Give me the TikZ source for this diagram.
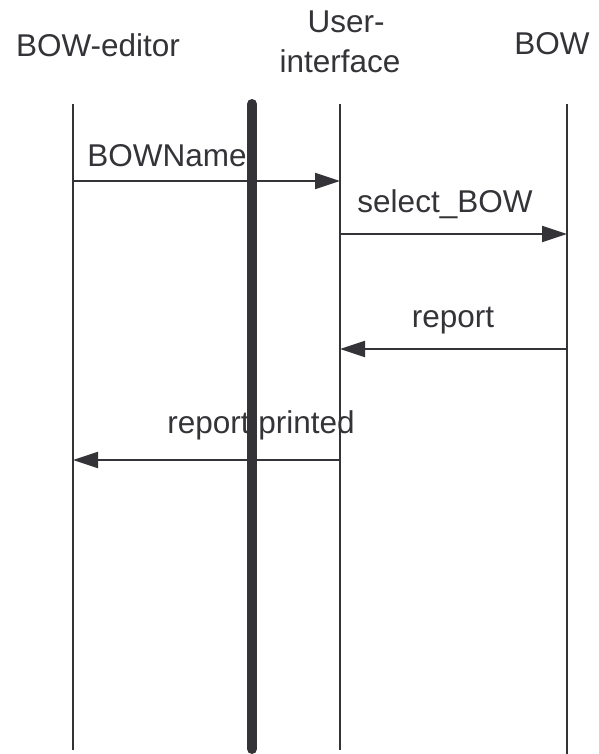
\documentclass[tikz,border=0pt]{standalone}
\usepackage{fontspec}
\setmainfont{Liberation Sans}
\usetikzlibrary{arrows.meta}
\definecolor{ink}{RGB}{51,51,56}
\begin{document}
\begin{tikzpicture}[x=1pt,y=-1pt,
  lbl/.style={anchor=base,inner sep=0pt,text=ink,font=\fontsize{31.5}{40}\selectfont},
  life/.style={draw=ink,line width=2pt},
  msg/.style={draw=ink,line width=2.2pt,-{Triangle[length=25pt,width=16pt]}},
  bar/.style={draw=ink,line width=10pt,line cap=round}]
\useasboundingbox (0,0) rectangle (598,754);
% headers
\node[lbl] (hE) at (98,57) {BOW-editor};
\node[lbl] (hU1) at (346,33) {User-};
\node[lbl] (hU2) at (340,73) {interface};
\node[lbl] (hB) at (552,55) {BOW};
% lifeline ends
\coordinate (eT) at (73,104); \coordinate (eB) at (73,750);
\coordinate (uT) at (340,104); \coordinate (uB) at (340,750);
\coordinate (bT) at (567,104); \coordinate (bB) at (567,754);
\draw[life] (eT) -- (eB);
\draw[life] (uT) -- (uB);
\draw[life] (bT) -- (bB);
% message points
\coordinate (e1) at (73,181); \coordinate (u1) at (340,181);
\coordinate (u2) at (340,234); \coordinate (b2) at (567,234);
\coordinate (b3) at (567,349); \coordinate (u3) at (340,349);
\coordinate (u4) at (340,460); \coordinate (e4) at (73,460);
\draw[msg] (e1) -- (u1);
\draw[msg] (u2) -- (b2);
\draw[msg] (b3) -- (u3);
\draw[msg] (u4) -- (e4);
\node[lbl] (m1) at (167,167) {BOWName};
\node[lbl] (m2) at (445,212) {select\_BOW};
\node[lbl] (m3) at (453,327) {report};
\node[lbl] (m4) at (261,433) {report printed};
% thick bar
\coordinate (tT) at (252,104); \coordinate (tB) at (252,749);
\draw[bar] (tT) -- (tB);
\end{tikzpicture}
\end{document}
